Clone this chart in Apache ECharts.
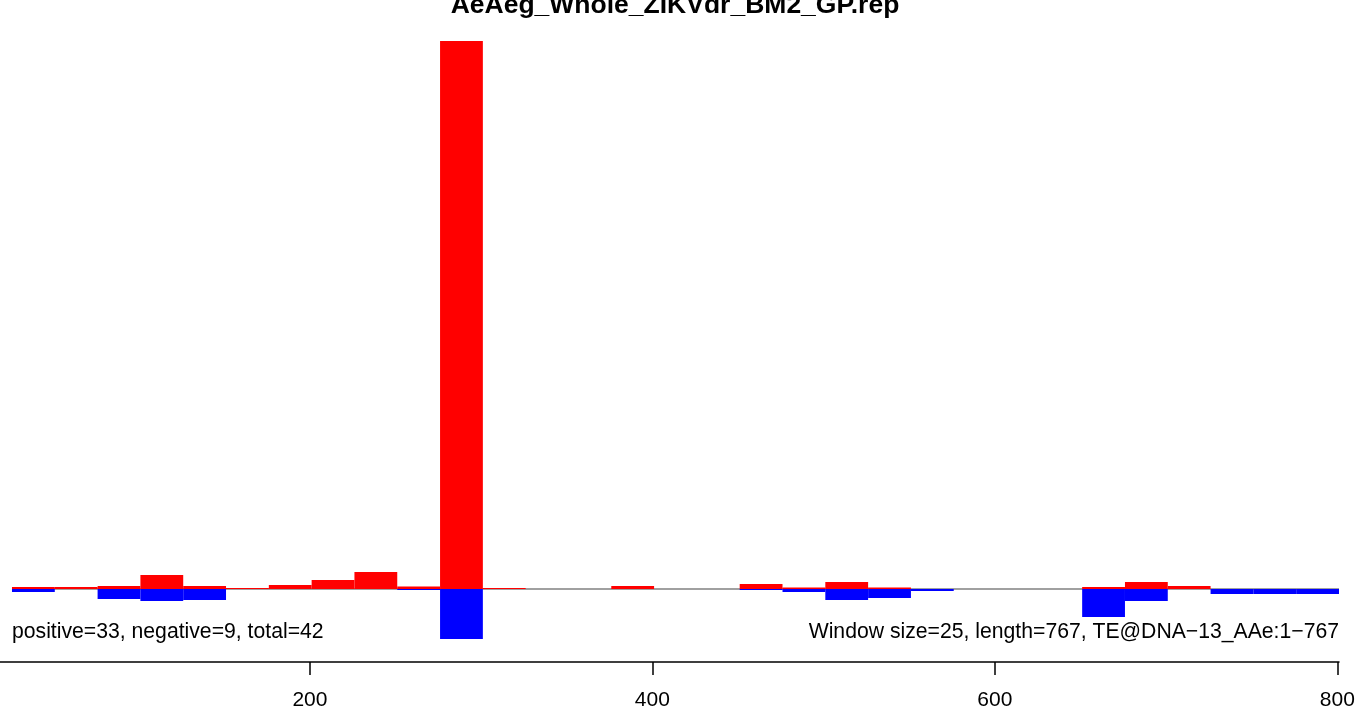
<!DOCTYPE html>
<html>
<head>
<meta charset="utf-8">
<script src="https://cdn.jsdelivr.net/npm/echarts@6/dist/echarts.min.js"></script>
<style>
html,body{margin:0;padding:0;background:#fff;}
#chart{width:1358px;height:713px;}
</style>
</head>
<body>
<div id="chart"></div>
<script>
// Window start positions (window size 25)
const binStarts = [26,51,76,101,126,151,176,201,226,251,276,301,326,351,376,401,426,451,476,501,526,551,576,601,626,651,676,701,726,751,776];
const windowSize = 25;
// Positive-strand signal per window (red, above zero)
const positiveVals = [2,2,3,14,3,1,4,9,17,2.5,548,1,0,0,3,0,0,5,1.5,7,1.5,0,0,0,0,2,7,3,0,0,0];
// Negative-strand signal per window (blue, below zero)
const negativeVals = [3,0,10,12,11,0,0,0,0,1,50,0,0,0,0,0,0,1,3,11,9,2,0,0,0,28,12,0,5,5,5];
const xTicks = [200,400,600,800];
const titleText = 'AeAeg_Whole_ZIKVdr_BM2_GP.rep';
const leftNote = 'positive=33, negative=9, total=42';
const rightNote = 'Window size=25, length=767, TE@DNA\u221213_AAe:1\u2212767';

const posData = binStarts.map((s,i)=>[s, s+windowSize, positiveVals[i]]);
const negData = binStarts.map((s,i)=>[s, s+windowSize, -negativeVals[i]]);

function rectRenderer(color){
  return function(params, api){
    const x0 = api.value(0), x1 = api.value(1), v = api.value(2);
    if (!v) return null;
    const p0 = api.coord([x0, 0]);
    const p1 = api.coord([x1, v]);
    return {
      type:'rect',
      shape:{x:p0[0], y:Math.min(p0[1],p1[1]), width:p1[0]-p0[0], height:Math.abs(p1[1]-p0[1])},
      style:{fill:color}
    };
  };
}

const chart = echarts.init(document.getElementById('chart'), null, {renderer:'canvas'});
chart.setOption({
  animation:false,
  backgroundColor:'#ffffff',
  grid:{left:0, right:19, top:41, bottom:74, containLabel:false},
  xAxis:{
    type:'value', min:19, max:801, offset:23,
    axisLine:{show:true, onZero:false, lineStyle:{color:'#000', width:1.5}},
    axisTick:{show:true, length:13, customValues:xTicks, lineStyle:{color:'#000', width:1.5}},
    axisLabel:{show:true, customValues:xTicks, margin:28, fontSize:21, color:'#000', fontFamily:'Liberation Sans, Arial, sans-serif'},
    splitLine:{show:false}
  },
  yAxis:{type:'value', min:-50, max:548, show:false, splitLine:{show:false}},
  series:[
    {type:'line', data:[[binStarts[0],0],[binStarts[binStarts.length-1]+windowSize,0]], symbol:'none',
     lineStyle:{color:'#a0a0a0', width:2}, z:1},
    {type:'custom', renderItem:rectRenderer('#ff0000'), data:posData, encode:{x:[0,1], y:2}, z:2},
    {type:'custom', renderItem:rectRenderer('#0000ff'), data:negData, encode:{x:[0,1], y:2}, z:2}
  ],
  graphic:[
    {type:'text', x:675, y:6, style:{text:titleText, font:'bold 26.5px "Liberation Sans", Arial, sans-serif', fill:'#000', textAlign:'center', textVerticalAlign:'middle'}},
    {type:'text', x:12, y:632, style:{text:leftNote, font:'21.2px "Liberation Sans", Arial, sans-serif', fill:'#000', textAlign:'left', textVerticalAlign:'middle'}},
    {type:'text', x:1339, y:632, style:{text:rightNote, font:'21.2px "Liberation Sans", Arial, sans-serif', fill:'#000', textAlign:'right', textVerticalAlign:'middle'}}
  ]
});
</script>
</body>
</html>
